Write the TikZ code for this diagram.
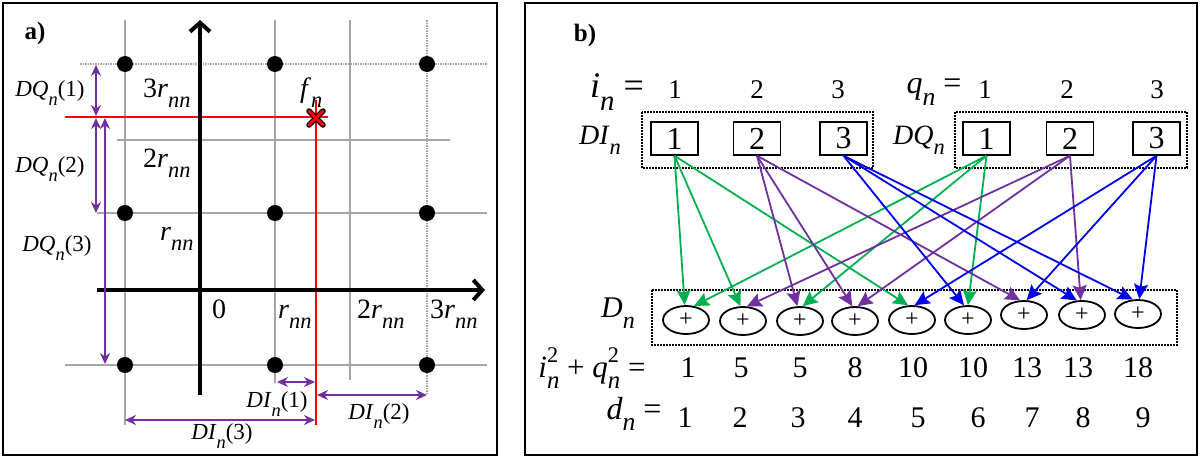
\documentclass[tikz,border=0pt]{standalone}
\usepackage{fontspec}
\usepackage{graphicx}
\setmainfont{Liberation Serif}
\usetikzlibrary{arrows.meta,shapes.geometric}
\definecolor{grn}{RGB}{0,176,80}
\definecolor{prp}{RGB}{112,48,160}
\definecolor{blu}{RGB}{0,0,235}
\definecolor{gridgray}{RGB}{165,165,165}
\newcommand\fs[1]{\fontsize{#1}{#1}\selectfont}
\newcommand\sbs[1]{\raisebox{-0.36em}{\scalebox{0.8}{\textit{#1}}}}
\newcommand\supsub[2]{\makebox[0pt][l]{\raisebox{0.5em}{\scalebox{0.72}{#1}}}\raisebox{-0.36em}{\scalebox{0.8}{\textit{#2}}}}
\begin{document}
\begin{tikzpicture}[x=1pt,y=-1pt,
  gridline/.style={draw=gridgray,line width=1.5},
  axisline/.style={line width=4,-{Straight Barb[length=9pt,width=20pt]}},
  dimarrow/.style={draw=prp,line width=1.8,{Stealth[length=11pt,width=10pt]}-{Stealth[length=11pt,width=10pt]}},
  link/.style={line width=1.8,-{Stealth[length=15pt,width=14pt,inset=2.5pt]}},
  numbox/.style={draw,line width=1.5,minimum width=47,minimum height=33,inner sep=0,font=\fs{32}},
  sumnode/.style={draw,ellipse,line width=1.8,minimum width=46,minimum height=28,inner sep=0,font=\fs{24}},
  dotbox/.style={draw,line width=2,densely dotted},
  lbl/.style={inner sep=0,font=\fs{28}},
  dimlbl/.style={inner sep=0,font=\fs{23}},
  rowlbl/.style={inner sep=0,font=\fs{30}},
  dot/.style={fill=black}
]
\useasboundingbox (0,0) rectangle (1200,458);
\fill[white] (0,0) rectangle (1200,458);
% panel frames
\draw[line width=2] (3,3) rectangle (497,455);
\draw[line width=2] (525,3) rectangle (1197,455);

% ---------------- panel a ----------------
\node[inner sep=0,font=\fs{25}\bfseries] (la) at (35,33) {a)};
\draw[gridline] (125,20) -- (125,425);
\draw[gridline] (275,20) -- (275,383);
\draw[gridline] (350,20) -- (350,380);
\draw[gridline,densely dotted] (427,20) -- (427,393);
\draw[gridline,densely dotted] (80,64) -- (487,64);
\draw[gridline] (117,140) -- (450,140);
\draw[gridline] (97,213) -- (487,213);
\draw[gridline] (65,365) -- (487,365);
% red lines
\draw[red,line width=1.3] (65,117) -- (328,117);
\draw[red,line width=1.3] (316,100) -- (316,425);
% axes
\draw[axisline] (200,395) -- (200,20);
\draw[axisline] (97,290) -- (485,290);
% lattice points
\foreach \px in {125,275,427}{
  \foreach \py in {64,213,365}{
    \fill[dot] (\px,\py) circle[radius=8pt];
  }
}
% red cross
\draw[black,line width=5.5,line cap=round] (309,111) -- (323,125) (309,125) -- (323,111);
\draw[red,line width=3,line cap=round] (309,111) -- (323,125) (309,125) -- (323,111);
% axis labels
\node[lbl,anchor=base west] (t3a) at (143,97) {3\textit{r}\sbs{nn}};
\node[lbl,anchor=base west] (t2a) at (143,167) {2\textit{r}\sbs{nn}};
\node[lbl,anchor=base west] (t1a) at (160,240) {\textit{r}\sbs{nn}};
\node[lbl,anchor=base west] (fn) at (300,97) {\textit{f}\sbs{n}};
\node[lbl,anchor=base west] (t0) at (212,318) {0};
\node[lbl,anchor=base west] (t1b) at (278,318) {\textit{r}\sbs{nn}};
\node[lbl,anchor=base west] (t2b) at (357,318) {2\textit{r}\sbs{nn}};
\node[lbl,anchor=base west] (t3b) at (430,318) {3\textit{r}\sbs{nn}};
% dimension arrows
\draw[dimarrow] (96,65) -- (96,116);
\draw[dimarrow] (96,118) -- (96,213);
\draw[dimarrow] (105,118) -- (105,364);
\draw[dimarrow] (277,382) -- (315,382);
\draw[dimarrow] (317,395) -- (427,395);
\draw[dimarrow] (125,420) -- (315,420);
\node[dimlbl] (dq1) at (50,93) {\textit{DQ}\sbs{n}(1)};
\node[dimlbl] (dq2) at (50,169) {\textit{DQ}\sbs{n}(2)};
\node[dimlbl] (dq3) at (57,248) {\textit{DQ}\sbs{n}(3)};
\node[dimlbl] (di1) at (277,404) {\textit{DI}\sbs{n}(1)};
\node[dimlbl] (di2) at (379,416) {\textit{DI}\sbs{n}(2)};
\node[dimlbl] (di3) at (222,436) {\textit{DI}\sbs{n}(3)};

% ---------------- panel b ----------------
\node[inner sep=0,font=\fs{25}\bfseries] (lb) at (585,35) {b)};
\node[inner sep=0,font=\fs{36}] (ieq) at (617,92) {\textit{i}\sbs{n} =};
\node[inner sep=0,font=\fs{27}] (in1) at (675,90) {1};
\node[inner sep=0,font=\fs{27}] (in2) at (757,90) {2};
\node[inner sep=0,font=\fs{27}] (in3) at (838,90) {3};
\node[inner sep=0,font=\fs{32}] (qeq) at (934,92) {\textit{q}\sbs{n} =};
\node[inner sep=0,font=\fs{27}] (qn1) at (985,90) {1};
\node[inner sep=0,font=\fs{27}] (qn2) at (1067,90) {2};
\node[inner sep=0,font=\fs{27}] (qn3) at (1157,90) {3};

\node[inner sep=0,font=\fs{28}] (DIlab) at (600,140) {\textit{DI}\sbs{n}};
\node[inner sep=0,font=\fs{28}] (DQlab) at (919,140) {\textit{DQ}\sbs{n}};
\draw[dotbox] (642,112) rectangle (873,168);
\draw[dotbox] (955,112) rectangle (1187,168);
\node[numbox] (I1) at (674.5,138.5) {1};
\node[numbox] (I2) at (757,138.5) {2};
\node[numbox] (I3) at (843.5,138.5) {3};
\node[numbox] (Q1) at (986.5,138.5) {1};
\node[numbox] (Q2) at (1070,138.5) {2};
\node[numbox] (Q3) at (1156.5,138.5) {3};

\node[inner sep=0,font=\fs{30}] (Dlab) at (618,313) {\textit{D}\sbs{n}};
\draw[dotbox] (652,290) rectangle (1177,345);
\node[sumnode] (D1) at (686,320) {+};
\node[sumnode] (D2) at (743,321) {+};
\node[sumnode] (D3) at (800,321) {+};
\node[sumnode] (D4) at (855,321) {+};
\node[sumnode] (D5) at (912,320) {+};
\node[sumnode] (D6) at (968,320) {+};
\node[sumnode] (D7) at (1024,315) {+};
\node[sumnode] (D8) at (1082,315) {+};
\node[sumnode] (D9) at (1138,314) {+};

% connectors
\draw[link,grn] (I1.south) -- (D1.95);
\draw[link,grn] (I1.south) -- (D2.100);
\draw[link,grn] (I1.south) -- (D5.105);
\draw[link,grn] (Q1.south) -- (D1.60);
\draw[link,grn] (Q1.south) -- (D3.80);
\draw[link,grn] (Q1.south) -- (D6.90);
\draw[link,prp] (I2.south) -- (D3.100);
\draw[link,prp] (I2.south) -- (D4.100);
\draw[link,prp] (I2.south) -- (D7.105);
\draw[link,prp] (Q2.south) -- (D2.75);
\draw[link,prp] (Q2.south) -- (D4.80);
\draw[link,prp] (Q2.south) -- (D8.95);
\draw[link,blu] (I3.south) -- (D6.105);
\draw[link,blu] (I3.south) -- (D8.110);
\draw[link,blu] (I3.south) -- (D9.110);
\draw[link,blu] (Q3.south) -- (D5.80);
\draw[link,blu] (Q3.south) -- (D7.80);
\draw[link,blu] (Q3.south) -- (D9.85);

% bottom rows
\node[inner sep=0,font=\fs{31}] (sumlab) at (592,368) {\textit{i}\supsub{2}{n} + \textit{q}\supsub{2}{n} =};
\node[rowlbl] (s1) at (688,368) {1};
\node[rowlbl] (s2) at (741,368) {5};
\node[rowlbl] (s3) at (800,368) {5};
\node[rowlbl] (s4) at (855,368) {8};
\node[rowlbl] (s5) at (913,368) {10};
\node[rowlbl] (s6) at (973,368) {10};
\node[rowlbl] (s7) at (1027,368) {13};
\node[rowlbl] (s8) at (1078,368) {13};
\node[rowlbl] (s9) at (1138,368) {18};
\node[inner sep=0,font=\fs{32}] (dlab) at (634,414) {\textit{d}\sbs{n} =};
\node[rowlbl] (d1) at (685,418) {1};
\node[rowlbl] (d2) at (740,418) {2};
\node[rowlbl] (d3) at (798,418) {3};
\node[rowlbl] (d4) at (855,418) {4};
\node[rowlbl] (d5) at (918,418) {5};
\node[rowlbl] (d6) at (978,418) {6};
\node[rowlbl] (d7) at (1032,418) {7};
\node[rowlbl] (d8) at (1083,418) {8};
\node[rowlbl] (d9) at (1143,418) {9};
\end{tikzpicture}
\end{document}
